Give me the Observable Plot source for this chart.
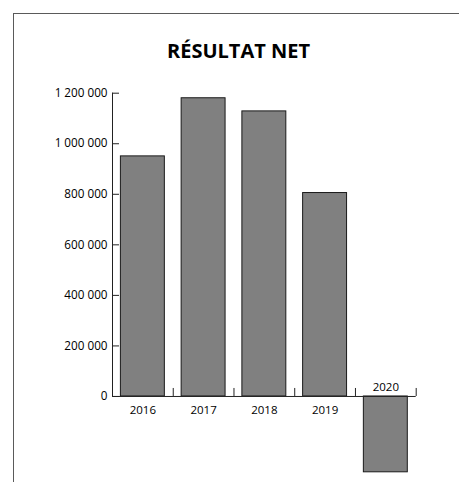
<!DOCTYPE html>
<html>
<head>
<meta charset="utf-8">
<script src="https://cdn.jsdelivr.net/npm/d3@7"></script>
<script src="https://cdn.jsdelivr.net/npm/@observablehq/plot@0.6"></script>
<style>
  html, body { margin: 0; padding: 0; background: #fff; }
  #wrap { position: relative; width: 459px; height: 482px; overflow: hidden; }
  #frame { position: absolute; left: 13px; top: 13px; right: -2px; bottom: -2px;
           border-top: 1px solid #5a5a5a; border-left: 1px solid #5a5a5a; pointer-events: none; }
</style>
</head>
<body>
<div id="wrap"><div id="frame"></div></div>
<script>
const title = "RÉSULTAT NET";
const years = ["2016", "2017", "2018", "2019", "2020"];
const values = [950000, 1180000, 1128000, 805000, -300000];
const yTicks = [0, 200000, 400000, 600000, 800000, 1000000, 1200000];

const data = years.map((year, i) => ({year, value: values[i], i}));
const bounds = d3.range(0, years.length + 1);
const fmt = d => d3.format(",")(d).replace(/,/g, " ");

const chart = Plot.plot({
  width: 459,
  height: 482,
  marginTop: 92.7,
  marginBottom: 10.2,
  marginLeft: 112,
  marginRight: 43.3,
  x: {domain: [0, years.length], axis: null},
  y: {domain: [-300000, 1200000], axis: null},
  style: {fontFamily: "'Open Sans', sans-serif", fontSize: "11.7px", background: "transparent", color: "#000"},
  marks: [
    Plot.rectY(data, {x1: d => d.i, x2: d => d.i + 1, y1: 0, y2: "value",
      insetLeft: 8.4, insetRight: 8.4, fill: "#808080", stroke: "#1a1a1a", strokeWidth: 1}),
    Plot.ruleX([0], {y1: 0, y2: yTicks[yTicks.length - 1], stroke: "#222"}),
    Plot.ruleY([0], {x1: 0, x2: years.length, stroke: "#222"}),
    Plot.ruleY(yTicks, {x1: 0, x2: 0, insetRight: -7, stroke: "#222"}),
    Plot.ruleX(bounds, {y1: 0, y2: 0, insetTop: -8, stroke: "#222"}),
    Plot.text(yTicks, {x: 0, y: d => d, text: fmt, textAnchor: "end", dx: -5, fill: "#000"}),
    Plot.text(data.filter(d => d.value >= 0), {x: d => d.i + 0.5, y: 0, text: "year", dy: 13.5, fontSize: 11.5, fill: "#000"}),
    Plot.text(data.filter(d => d.value < 0), {x: d => d.i + 0.5, y: 0, text: "year", dy: -9.5, fontSize: 11.5, fill: "#000"}),
    Plot.text([title], {frameAnchor: "top-left", dx: 126, dy: -49.7, text: d => d,
      fontSize: 20, fontWeight: "bold", textAnchor: "middle", fill: "#000"})
  ]
});
document.getElementById("wrap").prepend(chart);
</script>
</body>
</html>
